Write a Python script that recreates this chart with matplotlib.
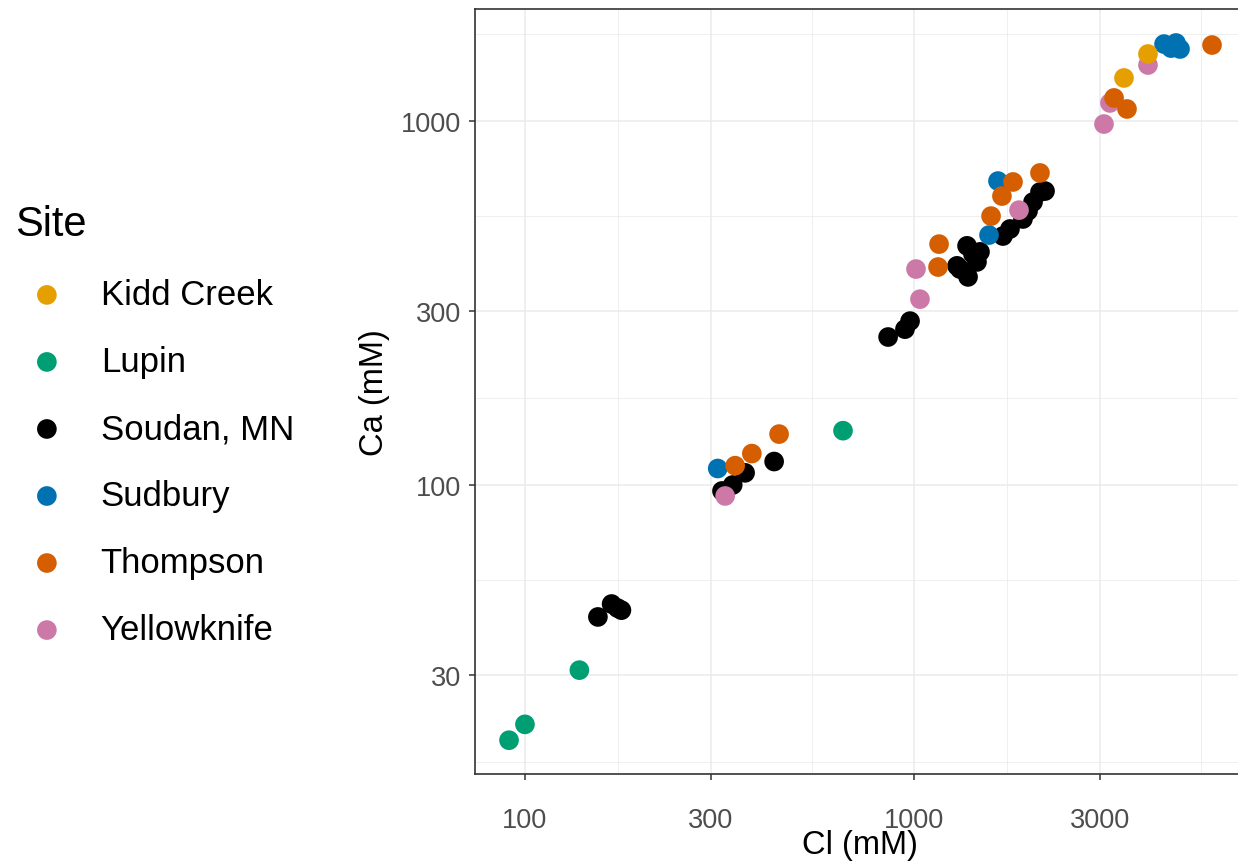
import matplotlib.pyplot as plt
from matplotlib.ticker import NullFormatter

plt.rcParams['font.family'] = ['Liberation Sans', 'DejaVu Sans']

# Cl and Ca (mM) per site
kidd_cl = [3466, 3995]
kidd_ca = [1313, 1528]

lupin_cl = [91, 100, 138, 657]
lupin_ca = [19.9, 22.0, 31.0, 141]

soudan_cl = [154, 167, 173, 177, 321, 342, 368, 437, 858, 948, 977,
             1290, 1313, 1377, 1369, 1418, 1478, 1452,
             1693, 1765, 1906, 1964, 2023, 2108, 2172]
soudan_ca = [43.4, 47.1, 45.9, 45.3, 96.3, 100, 108, 116, 255, 268, 282,
             400, 392, 373, 454, 431, 437, 410,
             483, 505, 538, 566, 599, 638, 642]

sudbury_cl = [313, 1559, 1644, 4393, 4579, 4715, 4829]
sudbury_ca = [111, 486, 684, 1627, 1586, 1638, 1577]

thompson_cl = [347, 383, 450, 1160, 1153, 1578, 1683, 1797, 2108, 3268, 3528, 5836]
thompson_ca = [113, 122, 138, 459, 397, 548, 622, 680, 720, 1157, 1079, 1617]

yellowknife_cl = [327, 1012, 1036, 1862, 3079, 3190, 3995]
yellowknife_ca = [93.3, 392, 324, 569, 981, 1121, 1425]

sites = ["Kidd Creek", "Lupin", "Soudan, MN", "Sudbury", "Thompson", "Yellowknife"]
colours = ["#E69F00", "#009E73", "#000000", "#0072B2", "#D55E00", "#CC79A7"]
cl_data = [kidd_cl, lupin_cl, soudan_cl, sudbury_cl, thompson_cl, yellowknife_cl]
ca_data = [kidd_ca, lupin_ca, soudan_ca, sudbury_ca, thompson_ca, yellowknife_ca]

x_ticks = [100, 300, 1000, 3000]
y_ticks = [30, 100, 300, 1000]

fig = plt.figure(figsize=(12.38, 8.62), dpi=100)
ax = fig.add_axes([475 / 1238, 87 / 862, 770 / 1238, 765 / 862])

# draw Soudan first so the other sites sit on top
order = [2, 1, 3, 5, 4, 0]
handles = {}
for i in order:
    h = ax.scatter(cl_data[i], ca_data[i], s=200, color=colours[i],
                   edgecolors='none', label=sites[i], zorder=3)
    handles[i] = h

ax.set_xscale('log')
ax.set_yscale('log')
ax.set_xlim(74.4, 7094)
ax.set_ylim(16.07, 2031)

ax.set_xticks(x_ticks)
ax.set_xticklabels([str(v) for v in x_ticks])
ax.set_yticks(y_ticks)
ax.set_yticklabels([str(v) for v in y_ticks])
ax.set_xticks([173.2, 547.7, 1732, 5477], minor=True)
ax.set_yticks([17.32, 54.77, 173.2, 547.7, 1732], minor=True)
ax.xaxis.set_minor_formatter(NullFormatter())
ax.yaxis.set_minor_formatter(NullFormatter())

ax.grid(True, which='major', color='#EBEBEB', linewidth=1.1)
ax.grid(True, which='minor', color='#EBEBEB', linewidth=0.55)
ax.set_axisbelow(True)

for side in ['top', 'left', 'bottom', 'right']:
    ax.spines[side].set_color('#333333')
    ax.spines[side].set_linewidth(1.2)

ax.tick_params(which='major', length=4, width=1.1, color='#333333',
               labelcolor='#4D4D4D', labelsize=19.5)
ax.tick_params(axis='y', pad=6)
ax.tick_params(axis='x', pad=20)
ax.tick_params(which='minor', length=0)

ax.set_xlabel('Cl (mM)', fontsize=23.5, labelpad=-3)
ax.set_ylabel('Ca (mM)', fontsize=23.5, labelpad=8)

leg = fig.legend([handles[i] for i in range(6)], sites, loc='upper left',
                 bbox_to_anchor=(0.0, 0.7795), frameon=False, fontsize=25,
                 title='Site', title_fontsize=30, alignment='left',
                 handlelength=1.84, handletextpad=0.63, labelspacing=0.98,
                 borderaxespad=0.03)

fig.savefig('out.png', dpi=100)
